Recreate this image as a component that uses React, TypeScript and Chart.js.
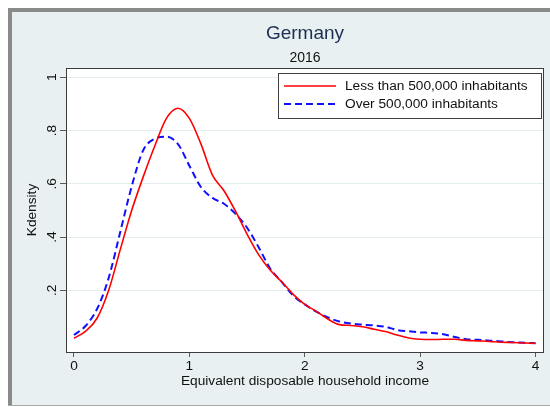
import { useEffect, useRef } from "react";
import { Chart, registerables } from "chart.js";

Chart.register(...registerables);

// Kernel density of equivalised disposable household income, Germany 2016
const income = [
  0, 0.1, 0.2, 0.3, 0.4, 0.5, 0.6, 0.7, 0.8, 0.9,
  1.0, 1.1, 1.2, 1.3, 1.4, 1.5, 1.6, 1.7, 1.8, 1.9,
  2.0, 2.1, 2.2, 2.3, 2.4, 2.5, 2.6, 2.7, 2.8, 2.9,
  3.0, 3.1, 3.2, 3.3, 3.4, 3.5, 3.6, 3.7, 3.8, 3.9, 4.0,
];

const lessThan500k = [
  0.020, 0.046, 0.095, 0.199, 0.351, 0.500, 0.626, 0.742, 0.845, 0.884,
  0.846, 0.750, 0.633, 0.574, 0.497, 0.411, 0.334, 0.276, 0.232, 0.185,
  0.147, 0.121, 0.092, 0.071, 0.068, 0.063, 0.054, 0.045, 0.032, 0.021,
  0.016, 0.015, 0.016, 0.016, 0.012, 0.010, 0.008, 0.005, 0.004, 0.002, 0.001,
];

const over500k = [
  0.032, 0.066, 0.130, 0.245, 0.417, 0.590, 0.726, 0.769, 0.777, 0.750,
  0.668, 0.588, 0.547, 0.525, 0.487, 0.435, 0.362, 0.282, 0.232, 0.180,
  0.147, 0.120, 0.098, 0.083, 0.075, 0.071, 0.068, 0.063, 0.051, 0.046,
  0.042, 0.040, 0.035, 0.025, 0.016, 0.014, 0.011, 0.008, 0.005, 0.003, 0.001,
];

const seriesNames = ["Less than 500,000 inhabitants", "Over 500,000 inhabitants"];
const xTicks = [0, 1, 2, 3, 4];
const yTicks = [0.2, 0.4, 0.6, 0.8, 1];
const yTickLabels = [".2", ".4", ".6", ".8", "1"];

const FONT = "'Liberation Sans', Arial, Helvetica, sans-serif";
const FRAME_BG = "#e8f0f1";

// Graph region: light background with a grey frame, white plot region
const backdrop = {
  id: "backdrop",
  beforeDraw(chart: any) {
    const { ctx, width, height, chartArea: a } = chart;
    ctx.save();
    ctx.fillStyle = "#ffffff";
    ctx.fillRect(0, 0, width, height);
    ctx.fillStyle = FRAME_BG;
    ctx.fillRect(8, 8, width - 8, 398);
    ctx.fillStyle = "#8a8a8a";
    ctx.fillRect(8, 8, width - 8, 4);
    ctx.fillRect(8, 8, 4, 398);
    ctx.fillStyle = "#a8a8a8";
    ctx.fillRect(8, 405, width - 8, 1);
    ctx.fillStyle = "#ffffff";
    ctx.fillRect(a.left, a.top, a.right - a.left, a.bottom - a.top);
    ctx.restore();
  },
  afterDraw(chart: any) {
    const { ctx, chartArea: a } = chart;
    ctx.save();
    // plot region outline
    ctx.strokeStyle = "#3c3c3c";
    ctx.lineWidth = 1;
    ctx.strokeRect(
      Math.round(a.left) + 0.5,
      Math.round(a.top) + 0.5,
      Math.round(a.right - a.left) - 1,
      Math.round(a.bottom - a.top)
    );

    // legend box in the upper right corner of the plot region
    const bx = Math.round(a.right) - 266;
    const by = Math.round(a.top) + 5;
    const bw = 264;
    const bh = 46;
    ctx.fillStyle = "#ffffff";
    ctx.fillRect(bx, by, bw, bh);
    ctx.strokeStyle = "#404040";
    ctx.strokeRect(bx + 0.5, by + 0.5, bw - 1, bh - 1);

    chart.data.datasets.forEach((ds: any, i: number) => {
      const y = by + 13 + i * 18;
      ctx.strokeStyle = ds.borderColor;
      ctx.lineWidth = ds.borderWidth;
      ctx.setLineDash(ds.borderDash || []);
      ctx.beginPath();
      ctx.moveTo(bx + 6, y);
      ctx.lineTo(bx + 58, y);
      ctx.stroke();
      ctx.setLineDash([]);
      ctx.fillStyle = "#111111";
      ctx.font = `13.7px ${FONT}`;
      ctx.textAlign = "left";
      ctx.textBaseline = "middle";
      ctx.fillText(ds.label, bx + 67, y);
    });
    ctx.restore();
  },
};

export default function App() {
  const canvasRef = useRef<HTMLCanvasElement | null>(null);

  useEffect(() => {
    const canvas = canvasRef.current;
    if (!canvas) return;

    const chart = new Chart(canvas, {
      type: "line",
      data: {
        datasets: [
          {
            label: seriesNames[0],
            data: income.map((x, i) => ({ x, y: lessThan500k[i] })),
            borderColor: "#ff0000",
            borderWidth: 1.6,
            pointRadius: 0,
            cubicInterpolationMode: "monotone",
          },
          {
            label: seriesNames[1],
            data: income.map((x, i) => ({ x, y: over500k[i] })),
            borderColor: "#1010ff",
            borderWidth: 2,
            borderDash: [7, 4],
            pointRadius: 0,
            cubicInterpolationMode: "monotone",
          },
        ],
      },
      options: {
        animation: false,
        responsive: false,
        devicePixelRatio: 1,
        layout: { padding: { left: 0, right: 6, top: 0, bottom: 0 } },
        font: { family: FONT },
        plugins: {
          legend: { display: false },
          tooltip: { enabled: false },
          title: {
            display: true,
            text: "Germany",
            fullSize: false,
            color: "#1c2f52",
            font: { family: FONT, size: 19, weight: "normal", lineHeight: 1.2 },
            padding: { top: 22.3, bottom: 4.3 },
          },
          subtitle: {
            display: true,
            text: "2016",
            fullSize: false,
            color: "#111111",
            font: { family: FONT, size: 14, weight: "normal", lineHeight: 1.2 },
            padding: { top: 0, bottom: 1.8 },
          },
        },
        scales: {
          x: {
            type: "linear",
            min: -0.069,
            max: 4.073,
            afterBuildTicks: (scale: any) => {
              scale.ticks = xTicks.map((v) => ({ value: v }));
            },
            afterFit: (scale: any) => {
              scale.height = 55;
            },
            ticks: {
              color: "#111111",
              font: { family: FONT, size: 13.7 },
              padding: 1.1,
              maxRotation: 0,
              autoSkip: false,
              callback: (v: any) => String(v),
            },
            grid: {
              drawOnChartArea: false,
              drawTicks: true,
              tickLength: 5,
              tickColor: "#5a5a5a",
            },
            border: { display: false },
            title: {
              display: true,
              text: "Equivalent disposable household income",
              color: "#111111",
              font: { family: FONT, size: 13.7, lineHeight: 1.2 },
              padding: { top: 0, bottom: 17.4 },
            },
          },
          y: {
            type: "linear",
            min: -0.0317,
            max: 1.035,
            afterBuildTicks: (scale: any) => {
              scale.ticks = yTicks.map((v) => ({ value: v }));
            },
            afterFit: (scale: any) => {
              scale.width = 66;
            },
            ticks: {
              color: "#111111",
              font: { family: FONT, size: 13.7 },
              minRotation: 90,
              maxRotation: 90,
              crossAlign: "center",
              padding: 2,
              autoSkip: false,
              callback: (_v: any, i: number) => yTickLabels[i],
            },
            grid: {
              color: "#e3ecee",
              lineWidth: 1,
              drawTicks: true,
              tickLength: 6,
              tickColor: "#5a5a5a",
            },
            border: { display: false },
            title: {
              display: true,
              text: "Kdensity",
              color: "#111111",
              font: { family: FONT, size: 13.7, lineHeight: 1.2 },
              padding: { top: 24.3, bottom: 0 },
            },
          },
        },
      },
      plugins: [backdrop],
    } as any);

    return () => chart.destroy();
  }, []);

  return (
    <div style={{ position: "absolute", left: 0, top: 0, width: 550, height: 407 }}>
      <canvas ref={canvasRef} width={550} height={407} style={{ display: "block" }} />
    </div>
  );
}
